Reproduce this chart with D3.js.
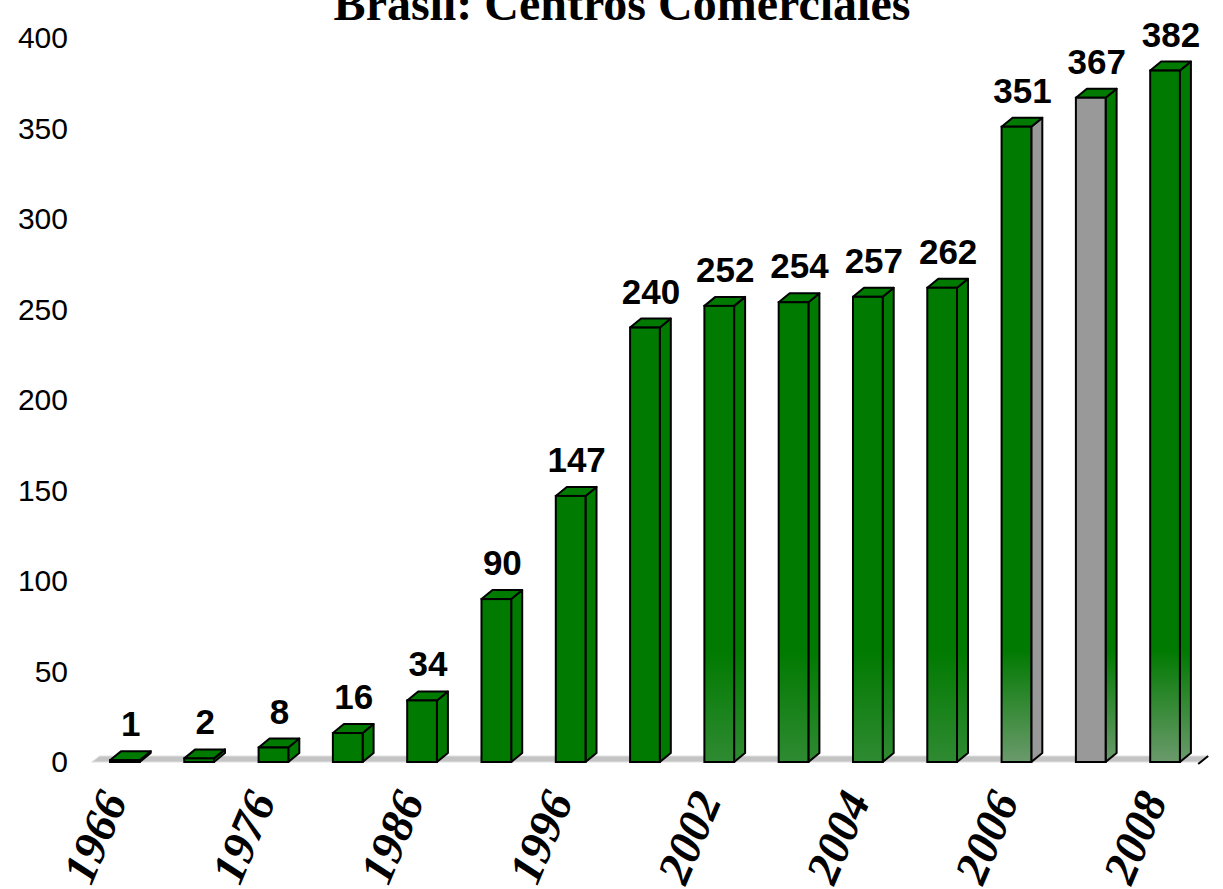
<!DOCTYPE html>
<html>
<head>
<meta charset="utf-8">
<script src="https://cdn.jsdelivr.net/npm/d3@7"></script>
<style>
  body { margin: 0; background: #fff; }
  svg { display: block; }
</style>
</head>
<body>
<div id="chart"></div>
<script>
// Data
const years = ["1966", "1971", "1976", "1981", "1986", "1991", "1996", "2000",
               "2002", "2003", "2004", "2005", "2006", "2007", "2008"];
const shoppingCentres = [1, 2, 8, 16, 34, 90, 147, 240, 252, 254, 257, 262, 351, 367, 382];
const shownYears = ["1966", "1976", "1986", "1996", "2002", "2004", "2006", "2008"];
const yTicks = [0, 50, 100, 150, 200, 250, 300, 350, 400];
const title = "Brasil: Centros Comerciales";

const data = years.map((y, i) => ({ year: y, value: shoppingCentres[i], i: i }));

const width = 1223, height = 889;
const depthX = 11, depthY = -9;

const svg = d3.select("#chart").append("svg")
    .attr("width", width)
    .attr("height", height);

// gradients for the faded bottoms of the later bars
const defs = svg.append("defs");
function fade(id, endColor) {
    const g = defs.append("linearGradient")
        .attr("id", id)
        .attr("gradientUnits", "userSpaceOnUse")
        .attr("x1", 0).attr("x2", 0)
        .attr("y1", 650).attr("y2", 762);
    g.append("stop").attr("offset", "0%").attr("stop-color", "#007a00");
    g.append("stop").attr("offset", "100%").attr("stop-color", endColor);
}
fade("fadeLight", "#2f8a32");
fade("fadeStrong", "#6b9a6c");

const x = d3.scaleBand()
    .domain(years)
    .range([87.7, 1202.2])
    .paddingInner(0.6)
    .paddingOuter(0.3);

const y = d3.scaleLinear()
    .domain([0, 400])
    .range([762, 38]);

// title (cut off at the top like the original)
svg.append("text")
    .attr("x", 622)
    .attr("y", 20)
    .attr("text-anchor", "middle")
    .style("font-family", "'Liberation Serif', 'Times New Roman', serif")
    .style("font-weight", "bold")
    .style("font-size", "48px")
    .text(title);

// y axis, labels only
const yAxis = svg.append("g")
    .attr("transform", "translate(70,0)")
    .call(d3.axisLeft(y).tickValues(yTicks).tickSize(0).tickPadding(2));
yAxis.select(".domain").remove();
yAxis.selectAll("text")
    .style("font-family", "'Liberation Sans', Arial, sans-serif")
    .style("font-size", "30px")
    .attr("fill", "#000");

// floor
const fx0 = x.range()[0] + 4, fx1 = x.range()[1] - 2;
svg.append("path")
    .attr("d", `M${fx0},${y(0)} L${fx0 + 8},${y(0) - 6} L${fx1 + 8},${y(0) - 6} L${fx1},${y(0)} Z`)
    .attr("fill", "#c4c4c4")
    .attr("stroke", "#e0e0e0")
    .attr("stroke-width", 1);
svg.append("line")
    .attr("x1", fx1 - 2).attr("y1", y(0) + 2)
    .attr("x2", fx1 + 8).attr("y2", y(0) - 6)
    .attr("stroke", "#000")
    .attr("stroke-width", 2);

function frontFill(d) {
    if (d.i === 13) return "#999999";
    if (d.i >= 12) return "url(#fadeStrong)";
    if (d.i >= 8) return "url(#fadeLight)";
    return "#007a00";
}
function sideFill(d) {
    if (d.i === 12) return "#999999";
    if (d.i >= 12) return "url(#fadeStrong)";
    if (d.i >= 8) return "url(#fadeLight)";
    return "#007a00";
}

const bars = svg.append("g").selectAll("g")
    .data(data)
    .enter().append("g");

// side face
bars.append("path")
    .attr("d", d => {
        const xr = x(d.year) + x.bandwidth(), yt = y(d.value), yb = y(0);
        return `M${xr},${yb} L${xr},${yt} L${xr + depthX},${yt + depthY} L${xr + depthX},${yb + depthY} Z`;
    })
    .attr("fill", sideFill)
    .attr("stroke", "#000")
    .attr("stroke-width", 2)
    .attr("stroke-linejoin", "round");

// top face
bars.append("path")
    .attr("d", d => {
        const xl = x(d.year), xr = xl + x.bandwidth(), yt = y(d.value);
        return `M${xl},${yt} L${xl + depthX},${yt + depthY} L${xr + depthX},${yt + depthY} L${xr},${yt} Z`;
    })
    .attr("fill", "#007a00")
    .attr("stroke", "#000")
    .attr("stroke-width", 2)
    .attr("stroke-linejoin", "round");

// front face
bars.append("rect")
    .attr("x", d => x(d.year))
    .attr("y", d => y(d.value))
    .attr("width", x.bandwidth())
    .attr("height", d => y(0) - y(d.value))
    .attr("fill", frontFill)
    .attr("stroke", "#000")
    .attr("stroke-width", 2);

// value labels
bars.append("text")
    .attr("x", d => x(d.year) + x.bandwidth() / 2 + 6)
    .attr("y", d => y(d.value) + depthY - 15)
    .attr("text-anchor", "middle")
    .style("font-family", "'Liberation Sans', Arial, sans-serif")
    .style("font-weight", "bold")
    .style("font-size", "35px")
    .text(d => d.value);

// x labels, every other year, rotated
svg.append("g").selectAll("text")
    .data(data.filter(d => shownYears.includes(d.year)))
    .enter().append("text")
    .attr("transform", d => `translate(${x(d.year) + x.bandwidth() / 2 + 3},800) rotate(-67)`)
    .attr("text-anchor", "end")
    .style("font-family", "'Liberation Serif', 'Times New Roman', serif")
    .style("font-weight", "bold")
    .style("font-style", "italic")
    .style("font-size", "47px")
    .text(d => d.year);
</script>
</body>
</html>
